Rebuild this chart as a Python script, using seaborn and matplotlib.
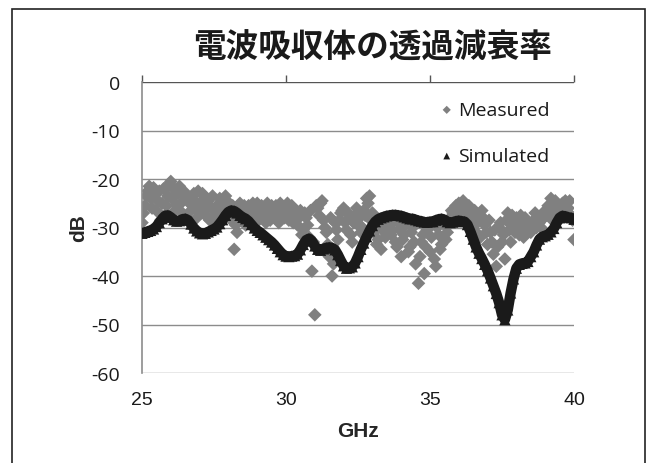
import matplotlib
matplotlib.use("Agg")
import matplotlib.pyplot as plt
from matplotlib.patches import Rectangle
import seaborn as sns
import numpy as np
import pandas as pd

# ---------------- data ----------------
freq = np.round(np.arange(25.0, 40.05, 0.1), 1)          # GHz, 0.1 step
freq_mid = np.round(np.arange(25.05, 40.0, 0.1), 2)      # measured points between

simulated = [
    -31.2, -31.0, -30.8, -30.6, -30.3, -29.8, -29.0, -28.2, -27.6, -27.5,
    -27.9, -28.4, -28.7, -28.6, -28.3, -28.2, -28.5, -29.3, -30.1, -30.7,
    -31.1, -31.3, -31.2, -30.9, -30.6, -30.3, -29.9, -29.2, -28.4, -27.5,
    -26.8, -26.5, -26.6, -27.0, -27.5, -27.9, -28.2, -28.7, -29.4, -30.1,
    -30.6, -31.0, -31.5, -32.0, -32.5, -33.0, -33.6, -34.3, -35.0, -35.6,
    -35.9, -36.0, -35.9, -35.8, -35.5, -34.6, -33.5, -32.6, -32.3, -32.8,
    -33.8, -34.5, -34.7, -34.4, -34.2, -34.1, -34.2, -34.6, -35.6, -36.8,
    -37.9, -38.4, -38.3, -38.1, -37.3, -36.0, -34.5, -33.2, -31.9, -30.7,
    -29.6, -28.8, -28.3, -28.0, -27.8, -27.6, -27.5, -27.4, -27.4, -27.5,
    -27.6, -27.8, -28.0, -28.2, -28.2, -28.4, -28.6, -28.7, -28.9, -28.9,
    -28.8, -28.8, -28.5, -28.3, -28.2, -28.4, -28.8, -29.0, -28.9, -28.7,
    -28.6, -28.7, -28.8, -29.4, -30.8, -32.4, -34.0, -35.3, -36.4, -37.6,
    -38.9, -40.4, -42.0, -43.6, -45.5, -48.0, -49.0, -47.0, -43.5, -40.6,
    -38.4, -37.6, -37.4, -37.3, -37.0, -36.0, -35.0, -33.6, -32.4, -31.9,
    -31.7, -31.4, -30.9, -30.2, -29.0, -28.0, -27.6, -27.7, -27.9, -28.0,
    -28.3,
]

measured = [
    -29.0, -25.5, -22.5, -24.0, -21.8, -26.5, -22.5, -25.0, -27.5, -23.5,
    -20.5, -22.0, -25.5, -21.5, -27.0, -23.5, -24.5, -26.5, -23.0, -28.0,
    -25.0, -23.0, -27.5, -24.5, -26.0, -28.0, -25.5, -24.0, -26.5, -23.5,
    -26.0, -28.5, -34.5, -31.0, -25.0, -27.0, -29.5, -25.5, -26.5, -28.0,
    -25.0, -27.5, -26.0, -29.0, -27.0, -25.5, -28.0, -26.5, -25.0, -27.5,
    -26.0, -28.5, -25.5, -27.0, -29.5, -26.5, -30.5, -28.0, -32.0, -39.0,
    -48.0, -26.0, -25.0, -28.5, -31.0, -36.0, -40.0, -29.0, -32.5, -27.0,
    -26.0, -30.5, -28.0, -33.0, -27.5, -29.5, -31.0, -26.5, -24.0, -23.5,
    -27.0, -30.0, -32.5, -34.5, -29.0, -31.5, -28.0, -30.5, -33.0, -29.0,
    -36.0, -31.5, -28.5, -34.0, -30.0, -37.5, -41.5, -33.0, -39.5, -30.5,
    -35.0, -29.0, -38.0, -31.5, -33.5, -29.5, -31.0, -28.0, -27.0, -25.5,
    -25.0, -26.0, -25.0, -26.5, -27.0, -28.5, -31.0, -27.5, -26.5, -29.5,
    -33.5, -31.0, -35.5, -38.0, -30.0, -33.0, -36.5, -27.0, -33.0, -29.5,
    -28.0, -31.5, -30.0, -28.0, -29.5, -31.0, -28.5, -30.0, -29.0, -27.5,
    -26.5, -25.5, -24.0, -25.5, -27.0, -26.0, -25.0, -24.5, -26.0, -27.5,
    -32.5,
]

measured_mid = [
    -27.0, -23.5, -21.5, -26.0, -23.0, -24.5, -28.5, -22.0, -25.5, -21.0,
    -24.0, -26.5, -23.0, -25.0, -22.5, -28.0, -25.0, -24.0, -26.0, -22.5,
    -27.0, -24.5, -26.0, -28.5, -23.5, -26.5, -27.5, -25.0, -28.0, -24.5,
    -27.5, -25.5, -29.5, -26.0, -28.5, -25.5, -27.5, -29.0, -25.0, -27.0,
    -28.5, -25.5, -27.5, -25.0, -28.5, -27.0, -25.5, -29.0, -26.0, -28.0,
    -25.0, -27.5, -29.0, -26.5, -28.0, -31.5, -27.0, -29.5, -26.5, -33.0,
    -25.5, -27.5, -24.5, -30.0, -33.5, -28.0, -37.5, -30.5, -28.5, -26.5,
    -29.0, -27.0, -31.5, -29.0, -26.0, -28.0, -30.0, -27.5, -25.0, -28.5,
    -31.0, -33.5, -28.5, -30.5, -32.0, -29.5, -31.5, -28.5, -34.0, -30.5,
    -32.5, -29.5, -35.0, -31.0, -33.0, -29.0, -36.0, -31.5, -34.0, -29.5,
    -32.0, -36.5, -30.0, -34.5, -29.0, -32.5, -29.5, -26.5, -28.5, -26.0,
    -27.5, -24.5, -28.0, -25.5, -29.5, -26.5, -29.0, -32.0, -28.0, -31.0,
    -28.5, -33.0, -30.5, -34.0, -29.0, -31.5, -28.5, -30.5, -27.5, -31.0,
    -29.0, -27.5, -32.0, -28.5, -30.5, -29.0, -27.0, -28.5, -30.0, -28.0,
    -27.5, -26.0, -28.5, -24.5, -26.5, -28.0, -25.5, -26.0, -24.5, -28.5,
]

title = "電波吸収体の透過減衰率"
x_ticks = [25, 30, 35, 40]
y_ticks = [0, -10, -20, -30, -40, -50, -60]

sim_df = pd.DataFrame({"GHz": freq, "dB": simulated})
meas_df = pd.DataFrame({"GHz": np.concatenate([freq, freq_mid]),
                        "dB": measured + measured_mid})

# ---------------- figure ----------------
sns.set_theme(style="white")
plt.rcParams["font.family"] = ["Open Sans", "DejaVu Sans"]
plt.rcParams["axes.unicode_minus"] = False

fig = plt.figure(figsize=(6.49, 4.64), dpi=100)
ax = fig.add_axes([142 / 649, 1 - 374 / 464, 432 / 649, 291 / 464])

grid_c = "#8c8c8c"
for yv in y_ticks:
    ax.axhline(yv, color=grid_c if yv != 0 else "#555555", lw=1, zorder=0)

sns.scatterplot(data=meas_df, x="GHz", y="dB", ax=ax, marker="D", s=48,
                color="#808080", edgecolor="none", label="Measured", zorder=2)
sns.lineplot(data=sim_df, x="GHz", y="dB", ax=ax, color="#1a1a1a", lw=7.5,
             legend=False, zorder=3)
sns.scatterplot(data=sim_df, x="GHz", y="dB", ax=ax, marker="^", s=66,
                color="#1a1a1a", edgecolor="none", label="Simulated", zorder=4)

ax.set_xlim(25, 40)
ax.set_ylim(-60, 0)
ax.set_xticks(x_ticks)
ax.set_yticks(y_ticks)

for s in ("right", "bottom", "top"):
    ax.spines[s].set_visible(False)
ax.spines["left"].set_color(grid_c)
ax.spines["left"].set_linewidth(1.2)

# x axis line sits at 0 dB (top) with outward ticks, labels at bottom
ax.tick_params(axis="x", top=True, bottom=False, labeltop=False, labelbottom=True,
               direction="out", length=5, width=1, color="#555555", pad=8)
ax.tick_params(axis="y", left=False, pad=10)
for lab in ax.get_xticklabels():
    lab.set_fontfamily(["Liberation Sans Narrow", "Liberation Sans"])
    lab.set_fontsize(14)
    lab.set_color("#1a1a1a")
for lab in ax.get_yticklabels():
    lab.set_fontsize(14)
    lab.set_color("#1a1a1a")

ax.set_xlabel("GHz", fontsize=15, fontweight="bold", labelpad=9,
              fontfamily=["Liberation Sans Narrow", "Liberation Sans"])
ax.set_ylabel("dB", fontsize=15, fontweight="bold", labelpad=2,
              fontfamily=["Liberation Sans Narrow", "Liberation Sans"])

leg = ax.legend(loc="upper right", bbox_to_anchor=(0.985, 0.995), frameon=False,
                fontsize=14, labelspacing=1.45, handletextpad=0.25,
                markerscale=0.6, handlelength=0.7)
for t in leg.get_texts():
    t.set_color("#1a1a1a")

fig.text(373 / 649, 1 - 48 / 464, title, ha="center", va="center",
         fontsize=23.5, fontweight="bold", color="#1a1a1a",
         fontfamily=["Noto Sans CJK JP", "DejaVu Sans"])

fig.add_artist(Rectangle((12 / 649, -0.05), (645 - 12) / 649, 1.05 - 10 / 464,
                         transform=fig.transFigure, fill=False, ec="#222222", lw=1.2))

fig.savefig("out.png", dpi=100)
